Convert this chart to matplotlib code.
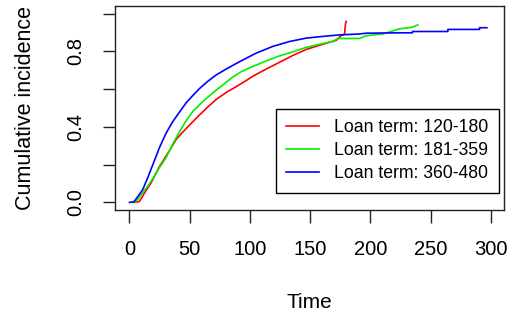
import matplotlib
matplotlib.use("Agg")
import matplotlib.pyplot as plt

plt.rcParams['font.family'] = ['Liberation Sans', 'DejaVu Sans']

labels = ["Loan term: 120-180", "Loan term: 181-359", "Loan term: 360-480"]
colors = ["#ff0000", "#00ee00", "#0000ff"]

# cumulative incidence (time, value)
t_short = [4, 8.3, 12.5, 18, 24.9, 33.2, 38.8, 44.3, 49.8, 58, 65, 72, 80.3, 88.6, 96.9,
           102.4, 113.5, 124.6, 135.6, 146.8, 157.8, 166, 171.7, 175.7, 178.6, 179.4, 180]
v_short = [0, 0.005, 0.05, 0.104, 0.19, 0.274, 0.334, 0.373, 0.409, 0.462, 0.505, 0.545,
           0.582, 0.613, 0.645, 0.668, 0.706, 0.742, 0.778, 0.81, 0.832, 0.848, 0.858, 0.883,
           0.892, 0.946, 0.958]

t_mid = [3, 5.5, 9.7, 15.2, 20.8, 24.9, 30.5, 36, 41.5, 47, 52.6, 60.9, 69.2, 77.5, 85.8,
         93, 102.4, 113.5, 124.6, 135.6, 146.8, 157.8, 168.9, 173, 191, 196.6, 210.4, 224,
         235, 239.5]
v_mid = [0, 0.005, 0.041, 0.086, 0.14, 0.184, 0.238, 0.31, 0.373, 0.432, 0.482, 0.534,
         0.58, 0.622, 0.664, 0.693, 0.72, 0.749, 0.776, 0.797, 0.821, 0.837, 0.852, 0.868,
         0.868, 0.883, 0.892, 0.919, 0.928, 0.94]

t_long = [0, 4, 7, 11, 15.2, 19.4, 24.9, 30.5, 36, 41.5, 47, 52.6, 58, 65, 72, 80.3, 91.4,
          105, 119, 132.9, 146.8, 160.5, 174.4, 191, 196.6, 224, 235, 235, 264.4, 264.4,
          290.7, 290.7, 296.8]
v_long = [0, 0.005, 0.032, 0.068, 0.131, 0.2, 0.29, 0.368, 0.428, 0.478, 0.527, 0.566,
          0.602, 0.641, 0.675, 0.706, 0.745, 0.79, 0.826, 0.852, 0.87, 0.879, 0.887, 0.892,
          0.896, 0.898, 0.898, 0.905, 0.905, 0.916, 0.916, 0.925, 0.925]

fig = plt.figure(figsize=(5.13, 3.20), dpi=100)
ax = fig.add_axes([115 / 513, 1 - 210 / 320, 389 / 513, 204 / 320])

for t, v, c, lab in zip([t_short, t_mid, t_long], [v_short, v_mid, v_long], colors, labels):
    ax.plot(t, v, color=c, lw=1.2, label=lab)

ax.set_xlim(-12, 311)
ax.set_ylim(-0.04, 1.04)
ax.set_xticks([0, 50, 100, 150, 200, 250, 300])
ax.set_yticks([0, 0.2, 0.4, 0.6, 0.8, 1.0])
ax.set_yticklabels(["0.0", "", "0.4", "", "0.8", ""], rotation=90, va="center")
ax.tick_params(length=9, width=1, labelsize=14.5, color="#222222", pad=12.5)
for s in ax.spines.values():
    s.set_color("#222222")
    s.set_linewidth(1)

ax.set_xlabel("Time", fontsize=15)
ax.set_ylabel("Cumulative incidence", fontsize=15.5)
ax.xaxis.set_label_coords(0.5, -0.451)
ax.yaxis.set_label_coords(-0.23, 0.5)
ax.xaxis.label.set_va("center")
ax.yaxis.label.set_va("center")

leg = ax.legend(loc="lower right", bbox_to_anchor=(0.987, 0.083), fontsize=12.7,
                fancybox=False, edgecolor="black", framealpha=1, handlelength=1.87,
                handletextpad=0.85, borderpad=0.6, labelspacing=0.35, borderaxespad=0)
leg.get_frame().set_linewidth(1)

fig.savefig("out.png", dpi=100)
